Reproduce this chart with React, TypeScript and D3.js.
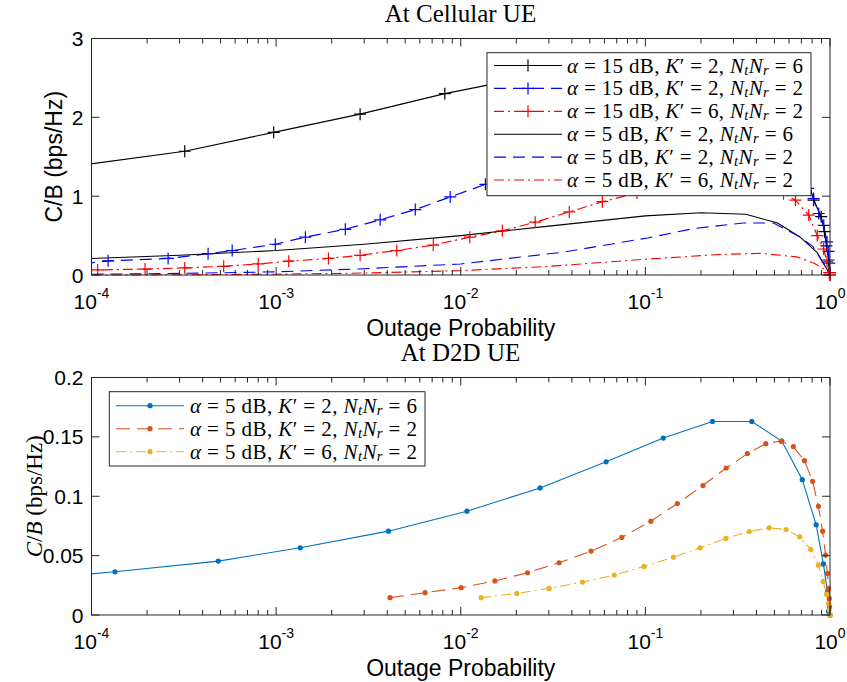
import React from 'react';
import * as d3 from 'd3';

const W = 847;
const H = 682;

// ---------- tick definitions ----------
const xTickExps = [-4, -3, -2, -1, 0];
const cellYTicks = [0, 1, 2, 3];
const d2dYTicks = [0, 0.05, 0.1, 0.15, 0.2];
const d2dYTickLabels = ['0', '0.05', '0.1', '0.15', '0.2'];

// ---------- top plot: At Cellular UE ----------
// alpha = 15 dB, K' = 2, NtNr = 6
const cellX1 = [8e-5, 3.2e-4, 9.7e-4, 2.85e-3, 8.2e-3, 0.024, 0.07, 0.2, 0.45, 0.65, 0.815, 0.896, 0.933, 0.957, 0.982, 1.0];
const cellY1 = [1.38, 1.57, 1.81, 2.04, 2.30, 2.52, 2.68, 2.74, 2.5, 1.8, 0.95, 0.74, 0.55, 0.37, 0.19, 0.0];
// alpha = 15 dB, K' = 2, NtNr = 2
const cellX2 = [9e-5, 1.23e-4, 2.6e-4, 4.28e-4, 5.78e-4, 9.9e-4, 1.44e-3, 2.37e-3, 3.66e-3, 5.67e-3, 8.77e-3, 1.36e-2, 0.021, 0.033, 0.05, 0.08, 0.13, 0.2, 0.3, 0.45, 0.62, 0.76, 0.815, 0.869, 0.925, 0.963, 0.982, 0.991, 1.0];
const cellY2 = [0.14, 0.18, 0.21, 0.27, 0.31, 0.39, 0.48, 0.58, 0.70, 0.83, 0.99, 1.15, 1.3, 1.43, 1.54, 1.63, 1.68, 1.68, 1.62, 1.48, 1.28, 1.1, 0.97, 0.78, 0.63, 0.42, 0.30, 0.15, 0.03];
// alpha = 15 dB, K' = 6, NtNr = 2
const cellX3 = [7e-5, 1.08e-4, 1.95e-4, 3.2e-4, 5.2e-4, 8.0e-4, 1.17e-3, 1.92e-3, 2.85e-3, 4.5e-3, 7.1e-3, 1.12e-2, 1.68e-2, 2.53e-2, 3.87e-2, 5.85e-2, 0.09, 0.14, 0.21, 0.31, 0.44, 0.56, 0.65, 0.767, 0.853, 0.923, 0.964, 0.99, 1.0];
const cellY3 = [0.055, 0.065, 0.075, 0.09, 0.11, 0.14, 0.175, 0.21, 0.25, 0.31, 0.38, 0.48, 0.56, 0.67, 0.80, 0.93, 1.04, 1.12, 1.17, 1.17, 1.12, 1.03, 0.95, 0.76, 0.50, 0.33, 0.17, 0.03, 0.0];
// alpha = 5 dB, K' = 2, NtNr = 6
const cellX4 = [1e-4, 3e-4, 1e-3, 3e-3, 1e-2, 3e-2, 0.1, 0.2, 0.35, 0.52, 0.69, 0.855, 0.97, 1.0];
const cellY4 = [0.21, 0.25, 0.31, 0.39, 0.50, 0.62, 0.75, 0.79, 0.77, 0.66, 0.48, 0.28, 0.06, 0.0];
// alpha = 5 dB, K' = 2, NtNr = 2
const cellX5 = [1e-4, 3e-4, 1e-3, 3e-3, 1e-2, 0.036, 0.103, 0.183, 0.34, 0.494, 0.69, 0.81, 0.97, 1.0];
const cellY5 = [0.01, 0.02, 0.04, 0.08, 0.14, 0.29, 0.47, 0.59, 0.66, 0.66, 0.48, 0.36, 0.06, 0.0];
// alpha = 5 dB, K' = 6, NtNr = 2
const cellX6 = [1e-4, 3e-4, 1e-3, 3e-3, 1e-2, 3e-2, 0.1, 0.25, 0.42, 0.66, 0.82, 0.97, 1.0];
const cellY6 = [0.0, 0.003, 0.01, 0.025, 0.055, 0.11, 0.2, 0.26, 0.275, 0.23, 0.15, 0.05, 0.0];

const cellAlpha = [15, 15, 15, 5, 5, 5];
const cellK = [2, 2, 6, 2, 2, 6];
const cellN = [6, 2, 2, 6, 2, 2];

// ---------- bottom plot: At D2D UE ----------
const d2dX1 = [3.2e-5, 1.34e-4, 4.86e-4, 1.35e-3, 4.06e-3, 1.08e-2, 2.69e-2, 6.13e-2, 0.125, 0.231, 0.377, 0.548, 0.708, 0.841, 0.921, 0.969, 0.982, 1.0];
const d2dY1 = [0.028, 0.0364, 0.0454, 0.0566, 0.0706, 0.0874, 0.107, 0.129, 0.149, 0.163, 0.163, 0.1465, 0.114, 0.076, 0.043, 0.0196, 0.003, 0.0];
const d2dX2 = [4.14e-3, 6.41e-3, 1.005e-2, 1.53e-2, 2.30e-2, 3.41e-2, 5.08e-2, 7.45e-2, 0.107, 0.149, 0.205, 0.274, 0.357, 0.449, 0.543, 0.633, 0.727, 0.805, 0.865, 0.912, 0.946, 0.968, 0.983, 0.991, 0.995, 1.0];
const d2dY2 = [0.0146, 0.0188, 0.023, 0.0287, 0.0356, 0.044, 0.0538, 0.0653, 0.079, 0.0939, 0.109, 0.1238, 0.1359, 0.1443, 0.1465, 0.1418, 0.130, 0.1126, 0.0916, 0.0706, 0.0505, 0.035, 0.0224, 0.014, 0.007, 0.0];
const d2dX3 = [1.29e-2, 2.01e-2, 3.01e-2, 4.56e-2, 6.79e-2, 9.84e-2, 0.142, 0.198, 0.273, 0.365, 0.468, 0.578, 0.686, 0.787, 0.865, 0.918, 0.957, 0.982, 0.991, 1.0];
const d2dY3 = [0.0146, 0.0182, 0.0224, 0.0277, 0.0336, 0.0409, 0.0487, 0.0566, 0.0645, 0.0703, 0.0734, 0.072, 0.0658, 0.0552, 0.042, 0.0283, 0.0175, 0.0095, 0.0045, 0.0];

const d2dAlpha = [5, 5, 5];
const d2dK = [2, 2, 6];
const d2dN = [6, 2, 2];

const topTitle = 'At Cellular UE';
const bottomTitle = 'At D2D UE';
const xLabel = 'Outage Probability';

// ---------- layout / styles ----------
const topBox = { l: 91.5, r: 830, t: 38.5, b: 275 };
const botBox = { l: 91.5, r: 830, t: 377.5, b: 615 };
const SANS = 'Liberation Sans, Arial, Helvetica, sans-serif';
const SERIF = 'Liberation Serif, Times New Roman, serif';
const AXIS_COLOR = '#262626';

type Series = { x: number[]; y: number[]; color: string; dash: string | null; marker: 'plus' | 'dot' | null; width: number };

const topSeries: Series[] = [
  { x: cellX1, y: cellY1, color: '#000000', dash: null, marker: 'plus', width: 1.2 },
  { x: cellX2, y: cellY2, color: '#0000FF', dash: '12,7', marker: 'plus', width: 1.2 },
  { x: cellX3, y: cellY3, color: '#FF0000', dash: '10,4,2,4', marker: 'plus', width: 1.2 },
  { x: cellX4, y: cellY4, color: '#000000', dash: null, marker: null, width: 1.1 },
  { x: cellX5, y: cellY5, color: '#0000FF', dash: '12,7', marker: null, width: 1.1 },
  { x: cellX6, y: cellY6, color: '#FF0000', dash: '10,4,2,4', marker: null, width: 1.1 },
];

const botSeries: Series[] = [
  { x: d2dX1, y: d2dY1, color: '#0072BD', dash: null, marker: 'dot', width: 1.1 },
  { x: d2dX2, y: d2dY2, color: '#D95319', dash: '14,7', marker: 'dot', width: 1.1 },
  { x: d2dX3, y: d2dY3, color: '#EDB120', dash: '10,4,2,4', marker: 'dot', width: 1.1 },
];

function Marker({ kind, x, y, color }: { kind: 'plus' | 'dot'; x: number; y: number; color: string }) {
  if (kind === 'plus') {
    return <path d={`M${x - 6},${y}H${x + 6}M${x},${y - 6}V${y + 6}`} stroke={color} strokeWidth={1.2} fill="none" />;
  }
  return <circle cx={x} cy={y} r={2.6} fill={color} />;
}

function LegendText({ x, y, alpha, k, n, size, len }: { x: number; y: number; alpha: number; k: number; n: number; size: number; len: number }) {
  const sub = size * 0.7;
  return (
    <text x={x} y={y} fontFamily={SERIF} fontSize={size} fill="#000" style={{ whiteSpace: 'pre' }} dominantBaseline="central" textLength={len} lengthAdjust="spacing">
      <tspan fontStyle="italic">α</tspan>
      <tspan>{` = ${alpha} dB, `}</tspan>
      <tspan fontStyle="italic">K</tspan>
      <tspan>{`′ = ${k}, `}</tspan>
      <tspan fontStyle="italic">N</tspan>
      <tspan fontStyle="italic" fontSize={sub} dy={4}>t</tspan>
      <tspan fontStyle="italic" dy={-4}>N</tspan>
      <tspan fontStyle="italic" fontSize={sub} dy={4}>r</tspan>
      <tspan dy={-4}>{` = ${n}`}</tspan>
    </text>
  );
}

function Panel({ box, yDomain, yTicks, yTickLabels, series, id }: { box: typeof topBox; yDomain: [number, number]; yTicks: number[]; yTickLabels: string[]; series: Series[]; id: string }) {
  const x = d3.scaleLog().domain([1e-4, 1]).range([box.l, box.r]);
  const y = d3.scaleLinear().domain(yDomain).range([box.b, box.t]);
  const line = d3.line<[number, number]>().x(d => x(d[0])).y(d => y(d[1]));
  const minor: number[] = [];
  for (let e = -4; e < 0; e++) for (let m = 2; m <= 9; m++) minor.push(m * Math.pow(10, e));
  const MAJ = 8, MIN = 5;
  return (
    <g>
      <defs>
        <clipPath id={id}>
          <rect x={box.l} y={box.t - 2} width={box.r - box.l + 2} height={box.b - box.t + 4} />
        </clipPath>
      </defs>
      <rect x={box.l} y={box.t} width={box.r - box.l} height={box.b - box.t} fill="#fff" />
      <g clipPath={`url(#${id})`}>
        {series.map((s, i) => (
          <path key={i} d={line(s.x.map((v, j) => [v, s.y[j]] as [number, number])) || ''} fill="none" stroke={s.color} strokeWidth={s.width} strokeDasharray={s.dash || undefined} />
        ))}
      </g>
      {series.map((s, i) => s.marker ? (
        <g key={'m' + i}>
          {s.x.map((v, j) => v >= 1e-4 ? <Marker key={j} kind={s.marker as any} x={x(v)} y={y(s.y[j])} color={s.color} /> : null)}
        </g>
      ) : null)}
      <rect x={box.l} y={box.t} width={box.r - box.l} height={box.b - box.t} fill="none" stroke={AXIS_COLOR} strokeWidth={1} />
      {xTickExps.map(e => {
        const px = x(Math.pow(10, e));
        return (
          <g key={'xt' + e}>
            <line x1={px} x2={px} y1={box.b} y2={box.b - MAJ} stroke={AXIS_COLOR} />
            <line x1={px} x2={px} y1={box.t} y2={box.t + MAJ} stroke={AXIS_COLOR} />
            <text x={px} y={box.b + 34} textAnchor="middle" fontFamily={SANS} fontSize={21} fill="#000">
              10<tspan fontSize={14} dy={-11}>{String(e)}</tspan>
            </text>
          </g>
        );
      })}
      {minor.map((v, i) => {
        const px = x(v);
        return (
          <g key={'mn' + i}>
            <line x1={px} x2={px} y1={box.b} y2={box.b - MIN} stroke={AXIS_COLOR} />
            <line x1={px} x2={px} y1={box.t} y2={box.t + MIN} stroke={AXIS_COLOR} />
          </g>
        );
      })}
      {yTicks.map((v, i) => {
        const py = y(v);
        return (
          <g key={'yt' + i}>
            <line x1={box.l} x2={box.l + MAJ} y1={py} y2={py} stroke={AXIS_COLOR} />
            <line x1={box.r} x2={box.r - MAJ} y1={py} y2={py} stroke={AXIS_COLOR} />
            <text x={box.l - 8} y={py} dy="0.36em" textAnchor="end" fontFamily={SANS} fontSize={21} fill="#000">{yTickLabels[i]}</text>
          </g>
        );
      })}
      <text x={(box.l + box.r) / 2} y={box.b + 61} textAnchor="middle" fontFamily={SANS} fontSize={23} fill="#000">{xLabel}</text>
    </g>
  );
}

export default function App() {
  const topLeg = { x: 487, y: 52.7, w: 324, h: 143, row0: 65.5, step: 22.9 };
  const botLeg = { x: 109.3, y: 391.7, w: 315.7, h: 74.3, row0: 405.7, step: 23 };
  return (
    <svg width={W} height={H} style={{ position: 'absolute', left: 0, top: 0, display: 'block', background: '#fff' }}>
      <rect x={0} y={0} width={W} height={H} fill="#fff" />
      <text x={460.5} y={22} textAnchor="middle" fontFamily={SERIF} fontSize={25} fill="#000">{topTitle}</text>
      <text x={460.5} y={361} textAnchor="middle" fontFamily={SERIF} fontSize={25} fill="#000">{bottomTitle}</text>

      <Panel box={topBox} yDomain={[0, 3]} yTicks={cellYTicks} yTickLabels={cellYTicks.map(String)} series={topSeries} id="clipTop" />
      <Panel box={botBox} yDomain={[0, 0.2]} yTicks={d2dYTicks} yTickLabels={d2dYTickLabels} series={botSeries} id="clipBot" />

      <text transform={`translate(62,${(topBox.t + topBox.b) / 2}) rotate(-90)`} textAnchor="middle" fontFamily={SANS} fontSize={23} fill="#000">C/B (bps/Hz)</text>
      <text transform={`translate(42,${(botBox.t + botBox.b) / 2}) rotate(-90)`} textAnchor="middle" fontFamily={SERIF} fontSize={23} fill="#000" style={{ whiteSpace: 'pre' }}>
        <tspan fontStyle="italic">C</tspan><tspan>/</tspan><tspan fontStyle="italic">B</tspan><tspan> (bps/Hz)</tspan>
      </text>

      <rect x={topLeg.x} y={topLeg.y} width={topLeg.w} height={topLeg.h} fill="#fff" stroke={AXIS_COLOR} strokeWidth={1} />
      {topSeries.map((s, i) => {
        const ry = topLeg.row0 + i * topLeg.step;
        return (
          <g key={'tl' + i}>
            <line x1={494} x2={562} y1={ry} y2={ry} stroke={s.color} strokeWidth={s.width} strokeDasharray={s.dash || undefined} />
            {s.marker ? <Marker kind={s.marker} x={528} y={ry} color={s.color} /> : null}
            <LegendText x={567} y={ry} alpha={cellAlpha[i]} k={cellK[i]} n={cellN[i]} size={21} len={cellAlpha[i] >= 10 ? 236 : 226} />
          </g>
        );
      })}

      <rect x={botLeg.x} y={botLeg.y} width={botLeg.w} height={botLeg.h} fill="#fff" stroke={AXIS_COLOR} strokeWidth={1} />
      {botSeries.map((s, i) => {
        const ry = botLeg.row0 + i * botLeg.step;
        return (
          <g key={'bl' + i}>
            <line x1={116} x2={184} y1={ry} y2={ry} stroke={s.color} strokeWidth={s.width} strokeDasharray={s.dash || undefined} />
            {s.marker ? <Marker kind={s.marker} x={150} y={ry} color={s.color} /> : null}
            <LegendText x={190} y={ry} alpha={d2dAlpha[i]} k={d2dK[i]} n={d2dN[i]} size={21} len={227} />
          </g>
        );
      })}
    </svg>
  );
}
